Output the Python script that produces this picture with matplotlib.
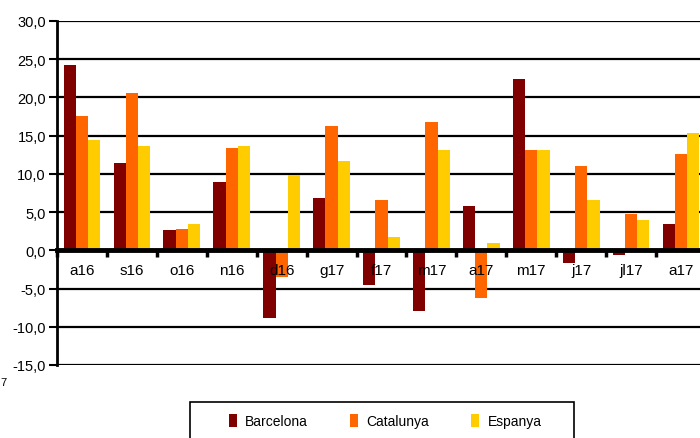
import numpy as np
import matplotlib.pyplot as plt
from matplotlib.patches import Rectangle

plt.rcParams['font.family'] = ['Liberation Sans', 'DejaVu Sans']

# ---- data ------------------------------------------------------------------
months = ["a16", "s16", "o16", "n16", "d16", "g17", "f17", "m17",
          "a17", "m17", "j17", "jl17", "a17"]
barcelona = [24.3, 11.4, 2.6, 9.0, -8.9, 6.9, -4.6, -7.9, 5.8, 22.4, -1.7, -0.6, 3.4]
catalunya = [17.6, 20.6, 2.8, 13.4, -3.5, 16.3, 6.6, 16.8, -6.3, 13.1, 11.0, 4.8, 12.6]
espanya = [14.4, 13.6, 3.4, 13.6, 9.9, 11.7, 1.7, 13.1, 0.9, 13.1, 6.6, 4.0, 15.3]
y_ticks = [-15, -10, -5, 0, 5, 10, 15, 20, 25, 30]
y_labels = ["-15,0", "-10,0", "-5,0", "0,0", "5,0", "10,0", "15,0", "20,0", "25,0", "30,0"]
series = ["Barcelona", "Catalunya", "Espanya"]
colors = ["#800000", "#FF6600", "#FFCC00"]

fig = plt.figure(figsize=(7.0, 4.39), dpi=100)
# axes runs a little past the right edge, like the cropped original
ax = fig.add_axes([57 / 700, 1 - 366 / 439, 649 / 700, 344 / 439])

x = np.arange(len(months))
w = 0.245
for i, (vals, name, c) in enumerate(zip([barcelona, catalunya, espanya], series, colors)):
    ax.bar(x + (i - 1) * w, vals, width=w, color=c, label=name, zorder=2)

ax.set_xlim(-0.5, len(months) - 0.5)
ax.set_ylim(-15, 30)
ax.set_yticks(y_ticks)
ax.set_yticklabels(y_labels, fontsize=10.5)
ax.set_axisbelow(True)
ax.yaxis.grid(True, color="black", lw=1.6)
ax.tick_params(axis="y", length=6, width=1.5, pad=2)

for s in ["top", "right"]:
    ax.spines[s].set_visible(False)
ax.spines["left"].set_linewidth(2)
ax.spines["bottom"].set_position(("data", 0))
ax.spines["bottom"].set_linewidth(3.5)
ax.spines["bottom"].set_zorder(3)

ax.set_xticks(x)
ax.set_xticklabels(months, fontsize=11)
ax.set_xticks(np.arange(len(months) + 1) - 0.5, minor=True)
ax.tick_params(axis="x", which="major", length=0, pad=9)
ax.tick_params(axis="x", which="minor", length=5, width=2.5)
ax.xaxis.set_zorder(5)   # month labels sit on top of the negative bars

# legend box, cut by the lower edge
fig.patches.append(Rectangle((190 / 700, -0.05), 384 / 700, 0.05 + 1 - 403 / 439,
                             transform=fig.transFigure, fill=False,
                             edgecolor="black", lw=1.2))
fig.legend(loc="center", bbox_to_anchor=(385 / 700, 1 - 422 / 439), ncol=3,
           frameon=False, fontsize=10, handlelength=0.6, handleheight=1.1,
           handletextpad=0.6, columnspacing=3.0)

# small leftover glyph at the left edge of the original
fig.text(0.0, 1 - 383 / 439, "7", fontsize=8, ha="left", va="center")

fig.savefig("out.png", dpi=100)
